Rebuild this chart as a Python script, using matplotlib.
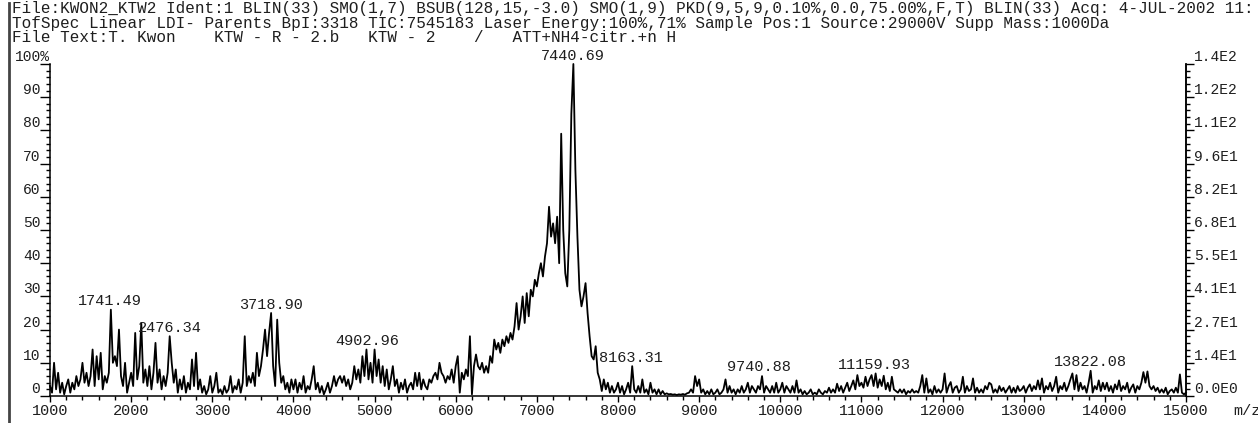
import numpy as np
import matplotlib
matplotlib.use('Agg')
import matplotlib.pyplot as plt
from matplotlib.ticker import MultipleLocator
from matplotlib.lines import Line2D

plt.rcParams['font.family'] = ['Liberation Mono', 'DejaVu Sans Mono']

# m/z sampling grid of the trace (every 25 Da)
mz = np.arange(1000, 15001, 25)

# relative intensity (%), one row per 500 Da
intensity = np.array([
    3, 1, 10, 2, 7, 1, 4, 0.5, 3, 5, 1, 4, 2, 6, 3, 5, 10, 4, 7, 3,                      # 1000
    6, 14, 3, 12, 5, 13, 2, 6, 4, 7, 26, 10, 12, 9, 20, 6, 3, 10, 1, 4,                  # 1500
    7, 3, 19, 5, 9, 22, 4, 8, 3, 9, 2, 7, 16, 4, 8, 2, 6, 3, 7, 18,                      # 2000
    10, 4, 8, 1, 5, 2, 6, 1, 4, 2, 11, 3, 13, 2, 5, 1, 3, 0.5, 2, 6,                     # 2500
    1, 3, 7, 1, 2, 0.5, 3, 1, 2, 6, 1, 3, 2, 5, 1, 4, 18, 3, 6, 4,                       # 3000
    7, 3, 13, 6, 9, 14, 20, 12, 19, 25, 9, 3, 23, 10, 4, 6, 2, 4, 1, 5,                  # 3500
    2, 5, 1, 4, 2, 6, 1, 3, 2, 5, 9, 2, 4, 1, 3, 0.5, 2, 4, 1, 3,                        # 4000
    6, 3, 5, 6, 4, 6, 3, 5, 2, 4, 9, 5, 8, 4, 12, 6, 14, 5, 10, 4,                       # 4500
    14, 6, 11, 4, 9, 3, 8, 2, 5, 9, 3, 5, 1, 4, 2, 5, 1, 3, 4, 2,                        # 5000
    7, 3, 7, 2, 5, 3, 2, 5, 4, 6, 7, 5, 10, 7, 6, 4, 6, 5, 8, 4,                         # 5500
    9, 12, 1, 7, 5, 8, 6, 18, 0.5, 9, 12.5, 9, 8, 10, 7, 9, 7, 12, 10, 17,               # 6000
    14, 16, 13, 17, 15, 18, 16, 19, 17, 21, 28, 20, 24, 30, 22, 31, 24, 32, 30, 35,      # 6500
    33, 37, 40, 36, 42, 46, 57, 48, 52, 46, 54, 40, 79, 50, 37, 33, 50, 85, 100, 68,     # 7000
    48, 32, 27, 30, 34, 25, 18, 12, 11, 15, 7, 5, 1.5, 5, 2, 4, 1, 3, 1, 2,              # 7500
    4, 1, 3, 0.5, 2, 4, 1, 9, 2, 1, 3, 1, 5, 1, 2, 0.5, 4, 1, 2, 0.5,                    # 8000
    2, 0.5, 1.5, 0.5, 0.8, 0.5, 0.6, 0.4, 0.5, 0.3, 0.5, 0.4, 0.6, 0.4, 0.8, 1, 2, 1, 6, 3,  # 8500
    5, 1, 2, 0.5, 1.5, 0.5, 2, 0.5, 1, 2, 0.5, 1, 2, 5, 1, 3, 1, 2, 0.5, 2,              # 9000
    1, 3, 1, 2, 4, 1, 3, 2, 1, 3, 2, 6, 1, 3, 2, 1, 3, 1, 4, 1,                          # 9500
    2, 4, 1, 3, 2, 1, 3, 1, 4.7, 1, 2, 0.5, 1.5, 0.5, 1, 2, 0.5, 1, 0.5, 2,              # 10000
    1, 0.5, 1.5, 1, 2.5, 1, 2, 1, 3.7, 1.5, 3, 1, 2.5, 4, 1.5, 3, 4.7, 2, 6.3, 3,        # 10500
    4, 2.5, 5.8, 3, 5, 6.3, 3, 6.8, 2.5, 5, 3, 6.1, 2, 4, 1.5, 5.8, 2, 1.5, 1, 2,        # 11000
    1, 2, 0.5, 1.5, 1, 2, 1, 1.5, 1, 3, 6.3, 1, 5.3, 1, 2, 0.5, 3, 1, 2, 1,              # 11500
    2, 6.8, 1, 3, 4.2, 1, 2.5, 3, 1, 2, 5.8, 1, 3, 1.5, 2, 5.3, 1, 2.5, 1, 2,            # 12000
    1, 3, 2, 4, 3.5, 1, 2, 1, 3, 1.5, 2.5, 1, 2, 3, 1, 2.5, 1, 3, 1.5, 2,                # 12500
    3, 1, 2.5, 3.5, 1.5, 3, 2, 4.7, 2, 5.3, 1, 3, 2, 4, 1.5, 3, 5.8, 1, 3, 2,            # 13000
    4, 1.5, 3, 5, 6.8, 2, 6.3, 1.5, 4, 2, 3, 1, 4, 7.6, 1, 3, 2, 4.7, 1.5, 4,            # 13500
    2, 4, 1.5, 3, 1, 3.5, 2, 4.7, 1.5, 3, 2, 4, 1, 2.5, 3.5, 1, 3, 2, 4, 7.2,            # 14000
    4, 7.4, 3, 2, 3, 1.5, 2.5, 1, 2, 1, 2.5, 0.5, 1.5, 2, 1, 2.5, 1, 6.5, 1, 0.5,        # 14500
    1,                                                                                   # 15000
])

# labelled peaks and the height of the trace under each label
peak_mz = [1741.49, 2476.34, 3718.90, 4902.96, 7440.69, 8163.31, 9740.88, 11159.93, 13822.08]
peak_height = [26, 18, 25, 14, 100, 9, 6.3, 6.8, 7.6]

left_ticks = [0, 10, 20, 30, 40, 50, 60, 70, 80, 90, 100]
left_labels = ['0', '10', '20', '30', '40', '50', '60', '70', '80', '90', '']
right_labels = ['0.0E0', '1.4E1', '2.7E1', '4.1E1', '5.5E1', '6.8E1',
                '8.2E1', '9.6E1', '1.1E2', '1.2E2', '1.4E2']

header = [
    "File:KWON2_KTW2 Ident:1 BLIN(33) SMO(1,7) BSUB(128,15,-3.0) SMO(1,9) "
    "PKD(9,5,9,0.10%,0.0,75.00%,F,T) BLIN(33) Acq: 4-JUL-2002 11:",
    "TofSpec Linear LDI- Parents BpI:3318 TIC:7545183 Laser Energy:100%,71% "
    "Sample Pos:1 Source:29000V Supp Mass:1000Da",
    "File Text:T. Kwon    KTW - R - 2.b   KTW - 2    /   ATT+NH4-citr.+n H",
]

W, H = 1258, 423
txt = '#1e1e1e'
fig = plt.figure(figsize=(W / 100, H / 100), dpi=100)
# plot frame: x 50..1186 px, y 64..396 px from the top
ax = fig.add_axes([50 / W, 27 / H, 1136 / W, 332 / H])

ax.plot(mz, intensity, color='black', lw=1.3, clip_on=False)
ax.set_xlim(1000, 15000)
ax.set_ylim(0, 100)

for x, h in zip(peak_mz, peak_height):
    ax.annotate(f"{x:.2f}", xy=(x, h), xytext=(0, 1), textcoords='offset points',
                ha='center', va='bottom', fontsize=11, color=txt)

ax.xaxis.set_major_locator(MultipleLocator(1000))
ax.xaxis.set_minor_locator(MultipleLocator(200))
ax.tick_params(axis='x', which='major', length=4, width=1, labelsize=11, pad=2, labelcolor=txt)
ax.tick_params(axis='x', which='minor', length=3, width=1)

ax.set_yticks(left_ticks)
ax.set_yticklabels(left_labels)
ax.yaxis.set_minor_locator(MultipleLocator(2))
ax.tick_params(axis='y', which='major', length=7, width=1, labelsize=10.5, pad=0, labelcolor=txt)
ax.tick_params(axis='y', which='minor', length=3, width=1)
for lab in ax.get_yticklabels():
    lab.set_verticalalignment('bottom')
ax.annotate('100%', xy=(0, 100), xycoords=('axes fraction', 'data'), xytext=(-25, 0),
            textcoords='offset points', ha='left', va='bottom', fontsize=10.5, color=txt)

ax2 = ax.twinx()
ax2.set_ylim(0, 100)
ax2.set_yticks(left_ticks)
ax2.set_yticklabels(right_labels)
ax2.yaxis.set_minor_locator(MultipleLocator(2))
ax2.tick_params(axis='y', which='major', length=5.5, width=1, labelsize=10.5, pad=0, labelcolor=txt)
ax2.tick_params(axis='y', which='minor', length=3, width=1)
for lab in ax2.get_yticklabels():
    lab.set_verticalalignment('bottom')

for a in (ax, ax2):
    a.spines['top'].set_visible(False)
    for s in a.spines.values():
        s.set_linewidth(1.1)
ax2.spines['left'].set_visible(False)
ax2.spines['bottom'].set_visible(False)

for i, line in enumerate(header):
    fig.text(12 / W, 1 - (9 + 14.5 * i) / H, line, ha='left', va='center',
             fontsize=11.5, color=txt)

fig.text(1233 / W, 12 / H, 'm/z', ha='left', va='center', fontsize=11, color=txt)

# page border on the left
fig.add_artist(Line2D([9 / W, 9 / W], [0, 1 - 3 / H], transform=fig.transFigure,
                      color='#444444', lw=2))

fig.savefig('out.png', dpi=100)
